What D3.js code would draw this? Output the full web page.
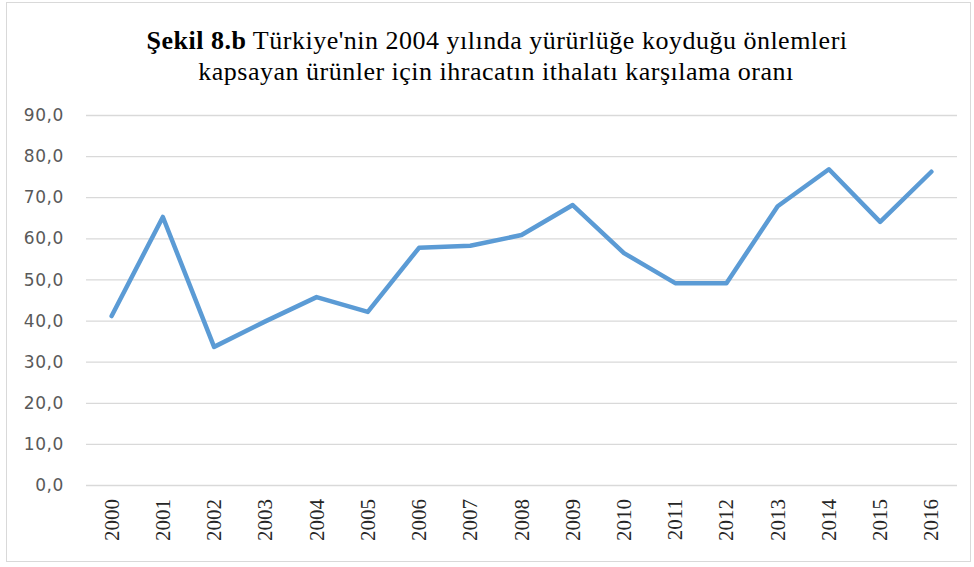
<!DOCTYPE html>
<html>
<head>
<meta charset="utf-8">
<script src="https://cdn.jsdelivr.net/npm/d3@7"></script>
<style>
  body { margin: 0; background: #fff; }
  svg { display: block; }
</style>
</head>
<body>
<div id="chart"></div>
<script>
(function () {
    const width = 974;
    const height = 567;

    // veriler
    const years = ["2000", "2001", "2002", "2003", "2004", "2005", "2006", "2007", "2008",
        "2009", "2010", "2011", "2012", "2013", "2014", "2015", "2016"];
    const ratios = [41.1, 65.2, 33.6, 39.8, 45.7, 42.1, 57.7, 58.2, 60.8,
        68.1, 56.4, 49.1, 49.1, 67.8, 76.8, 64.0, 76.2];
    const yTicks = [0, 10, 20, 30, 40, 50, 60, 70, 80, 90];
    const titleBold = "Şekil 8.b";
    const titleLine1 = " Türkiye'nin 2004  yılında yürürlüğe koyduğu önlemleri";
    const titleLine2 = "kapsayan ürünler için ihracatın ithalatı karşılama oranı";

    const margin = { top: 115, right: 17, bottom: 82, left: 86 };

    const svg = d3.select("#chart")
        .append("svg")
        .attr("width", width)
        .attr("height", height);

    // dış çerçeve
    svg.append("rect")
        .attr("x", 6.5).attr("y", 2.5)
        .attr("width", 964).attr("height", 559)
        .attr("fill", "#fff")
        .attr("stroke", "#d9d9d9");

    const x = d3.scaleBand()
        .domain(years)
        .range([margin.left, width - margin.right]);

    const y = d3.scaleLinear()
        .domain([0, 90])
        .range([height - margin.bottom, margin.top]);

    // yatay ızgara çizgileri
    svg.append("g")
        .selectAll("line")
        .data(yTicks)
        .enter().append("line")
        .attr("x1", margin.left)
        .attr("x2", width - margin.right)
        .attr("y1", d => y(d) + 0.5)
        .attr("y2", d => y(d) + 0.5)
        .attr("stroke", "#d9d9d9")
        .attr("stroke-width", 1.3);

    // y ekseni etiketleri
    const fmt = d => d3.format(".1f")(d).replace(".", ",");
    svg.append("g")
        .selectAll("text")
        .data(yTicks)
        .enter().append("text")
        .attr("x", 64)
        .attr("y", d => y(d))
        .attr("dy", "0.36em")
        .attr("text-anchor", "end")
        .attr("font-family", "'DejaVu Sans', sans-serif")
        .attr("font-size", 17)
        .attr("letter-spacing", 0.6)
        .attr("fill", "#595959")
        .text(fmt);

    // x ekseni etiketleri (dikey)
    svg.append("g")
        .selectAll("text")
        .data(years)
        .enter().append("text")
        .attr("transform", d => `translate(${x(d) + x.bandwidth() / 2 + 7}, ${height - margin.bottom + 14}) rotate(-90)`)
        .attr("text-anchor", "end")
        .attr("font-family", "'Liberation Serif', 'Times New Roman', serif")
        .attr("font-size", 21)
        .attr("fill", "#262626")
        .text(d => d);

    // çizgi
    const line = d3.line()
        .x((d, i) => x(years[i]) + x.bandwidth() / 2)
        .y(d => y(d));

    svg.append("path")
        .datum(ratios)
        .attr("d", line)
        .attr("fill", "none")
        .attr("stroke", "#5b9bd5")
        .attr("stroke-width", 4.5)
        .attr("stroke-linejoin", "round")
        .attr("stroke-linecap", "round");

    // başlık
    const title = svg.append("g")
        .attr("font-family", "'Liberation Serif', 'Times New Roman', serif")
        .attr("font-size", 26)
        .attr("letter-spacing", 0.5)
        .attr("fill", "#000")
        .attr("text-anchor", "middle");

    const t1 = title.append("text").attr("x", 497).attr("y", 49);
    t1.append("tspan").attr("font-weight", "bold").text(titleBold);
    t1.append("tspan").text(titleLine1);

    title.append("text")
        .attr("x", 496).attr("y", 80)
        .text(titleLine2);
})();
</script>
</body>
</html>
